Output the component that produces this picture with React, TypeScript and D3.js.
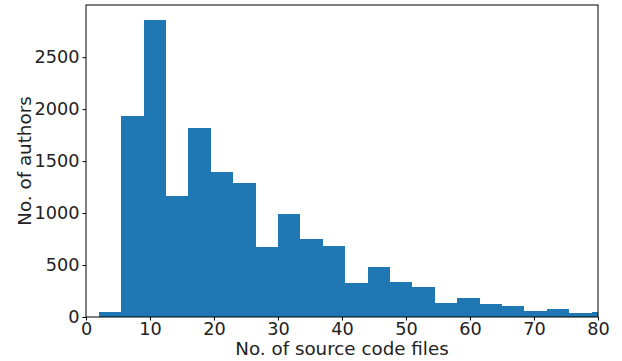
import React, {useRef, useEffect} from 'react';
import * as d3 from 'd3';

// histogram bin edges (no. of source code files)
const binEdges = [2, 5.5, 9, 12.5, 16, 19.5, 23, 26.5, 30, 33.5, 37, 40.5, 44, 47.5, 51, 54.5, 58, 61.5, 65, 68.5, 72, 75.5, 79, 82.5];
// no. of authors per bin
const counts = [50, 1936, 2859, 1166, 1820, 1397, 1291, 676, 993, 753, 686, 330, 484, 340, 291, 138, 186, 128, 109, 61, 80, 41, 45];
const xTicks = [0, 10, 20, 30, 40, 50, 60, 70, 80];
const yTicks = [0, 500, 1000, 1500, 2000, 2500];

function App() {
  const canvas = useRef<HTMLDivElement>(null);

  const width = 622;
  const height = 361;
  const left = 86;
  const right = 598;
  const top = 5;
  const bottom = 317;
  const font = 'DejaVu Sans';
  const tickSize = 17.7;
  const labelSize = 18.3;

  useEffect(() => {
    const el = canvas.current;
    if (!el) return;
    d3.select(el).selectAll('*').remove();

    const xScale = d3.scaleLinear().domain([0, 80]).range([left, right]);
    const yScale = d3.scaleLinear()
      .domain([0, d3.max(counts)! * 1.05])
      .range([bottom, top]);

    const svg = d3.select(el)
      .append('svg')
        .attr('width', width)
        .attr('height', height)
        .style('position', 'absolute')
        .style('left', 0)
        .style('top', 0)
        .style('font-family', font);

    svg.append('rect')
      .attr('width', width)
      .attr('height', height)
      .attr('fill', 'white');

    svg.append('defs')
      .append('clipPath')
        .attr('id', 'plot-clip')
      .append('rect')
        .attr('x', left)
        .attr('y', top)
        .attr('width', right - left)
        .attr('height', bottom - top);

    // bars
    svg.append('g')
      .attr('clip-path', 'url(#plot-clip)')
      .selectAll('rect')
      .data(counts)
      .enter()
        .append('rect')
          .attr('x', (d, i) => xScale(binEdges[i]))
          .attr('y', d => yScale(d))
          .attr('width', (d, i) => xScale(binEdges[i + 1]) - xScale(binEdges[i]))
          .attr('height', d => bottom - yScale(d))
          .attr('fill', '#1f77b4')
          .attr('shape-rendering', 'crispEdges');

    // frame
    svg.append('rect')
      .attr('x', left)
      .attr('y', top)
      .attr('width', right - left)
      .attr('height', bottom - top)
      .attr('fill', 'none')
      .attr('stroke', 'black')
      .attr('stroke-width', 1);

    // x axis
    const xAxis = svg.append('g')
      .attr('transform', `translate(0, ${bottom})`)
      .call(d3.axisBottom(xScale).tickValues(xTicks).tickSize(3.5).tickPadding(2).tickFormat(d3.format('d')));
    xAxis.select('.domain').remove();
    xAxis.selectAll('text')
      .attr('font-family', font)
      .attr('font-size', tickSize)
      .attr('fill', '#222');

    // y axis
    const yAxis = svg.append('g')
      .attr('transform', `translate(${left}, 0)`)
      .call(d3.axisLeft(yScale).tickValues(yTicks).tickSize(3.5).tickPadding(3).tickFormat(d3.format('d')));
    yAxis.select('.domain').remove();
    yAxis.selectAll('text')
      .attr('font-family', font)
      .attr('font-size', tickSize)
      .attr('fill', '#222');

    svg.append('text')
      .attr('x', (left + right) / 2)
      .attr('y', 355)
      .attr('text-anchor', 'middle')
      .attr('font-size', labelSize)
      .attr('fill', '#222')
      .text('No. of source code files');

    svg.append('text')
      .attr('transform', `translate(31, ${(top + bottom) / 2}) rotate(-90)`)
      .attr('text-anchor', 'middle')
      .attr('font-size', labelSize)
      .attr('fill', '#222')
      .text('No. of authors');
  }, []);

  return <div className="d3-canvas" ref={canvas}></div>;
}

export default App;
